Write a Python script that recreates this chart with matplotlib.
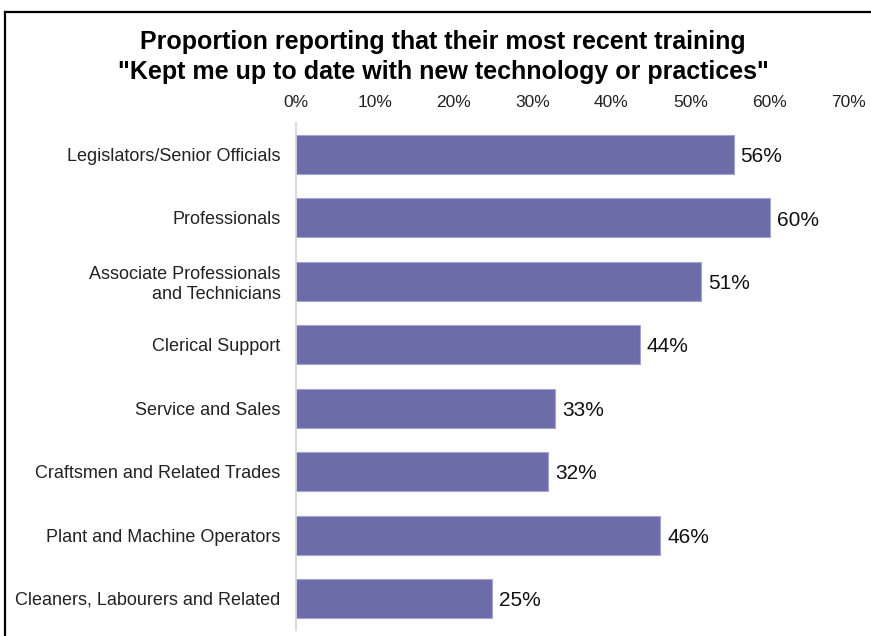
import matplotlib
matplotlib.use("Agg")
import matplotlib.pyplot as plt
from matplotlib.lines import Line2D
from matplotlib.ticker import FuncFormatter, MultipleLocator

plt.rcParams['font.family'] = ['Liberation Sans', 'DejaVu Sans']

categories = [
    "Legislators/Senior Officials",
    "Professionals",
    "Associate Professionals\nand Technicians",
    "Clerical Support",
    "Service and Sales",
    "Craftsmen and Related Trades",
    "Plant and Machine Operators",
    "Cleaners, Labourers and Related",
]
values = [55.5, 60.1, 51.4, 43.6, 32.9, 32.0, 46.2, 24.9]
labels = ["56%", "60%", "51%", "44%", "33%", "32%", "46%", "25%"]
title = 'Proportion reporting that their most recent training\n"Kept me up to date with new technology or practices"'

W, H = 871, 636
fig = plt.figure(figsize=(W / 100, H / 100), dpi=100)
fig.patch.set_facecolor("white")

left, right = 296 / W, 848 / W
top, bottom = 1 - 122.8 / H, 1 - 630.2 / H
ax = fig.add_axes([left, bottom, right - left, top - bottom])

y = list(range(len(categories)))
bars = ax.barh(y, values, height=0.615, color="#6C6CA8", edgecolor="#A4A4D4", linewidth=0.8)
ax.set_ylim(len(categories) - 0.5, -0.5)
ax.set_xlim(0, 70)
ax.xaxis.set_major_locator(MultipleLocator(10))
ax.xaxis.set_major_formatter(FuncFormatter(lambda v, p: f"{int(round(v))}%"))
ax.xaxis.tick_top()
ax.tick_params(axis="x", length=0, pad=9, labelsize=12.5, colors="#222222")
ax.tick_params(axis="y", length=0, pad=11, labelsize=13, colors="#222222")
ax.set_yticks(y)
ax.set_yticklabels(categories)
for s in ["top", "right", "bottom"]:
    ax.spines[s].set_visible(False)
ax.spines["left"].set_color("#D4D4D4")
ax.spines["left"].set_linewidth(1.2)

for b, lab in zip(bars, labels):
    ax.annotate(lab, xy=(b.get_width(), b.get_y() + b.get_height() / 2),
                xytext=(5, -1.5), textcoords="offset points",
                va="center", ha="left", fontsize=15, color="#111111")

fig.text(443 / W, 1 - 57 / H, title, ha="center", va="center",
         fontsize=18, fontweight="bold", linespacing=1.32, color="black")

# outer frame (top and left edges)
fig.add_artist(Line2D([5 / W, 1.0], [1 - 12 / H, 1 - 12 / H], transform=fig.transFigure,
                      color="black", linewidth=1.6))
fig.add_artist(Line2D([5 / W, 5 / W], [1 - 12 / H, 0.0], transform=fig.transFigure,
                      color="black", linewidth=1.6))

fig.savefig("out.png", dpi=100)
